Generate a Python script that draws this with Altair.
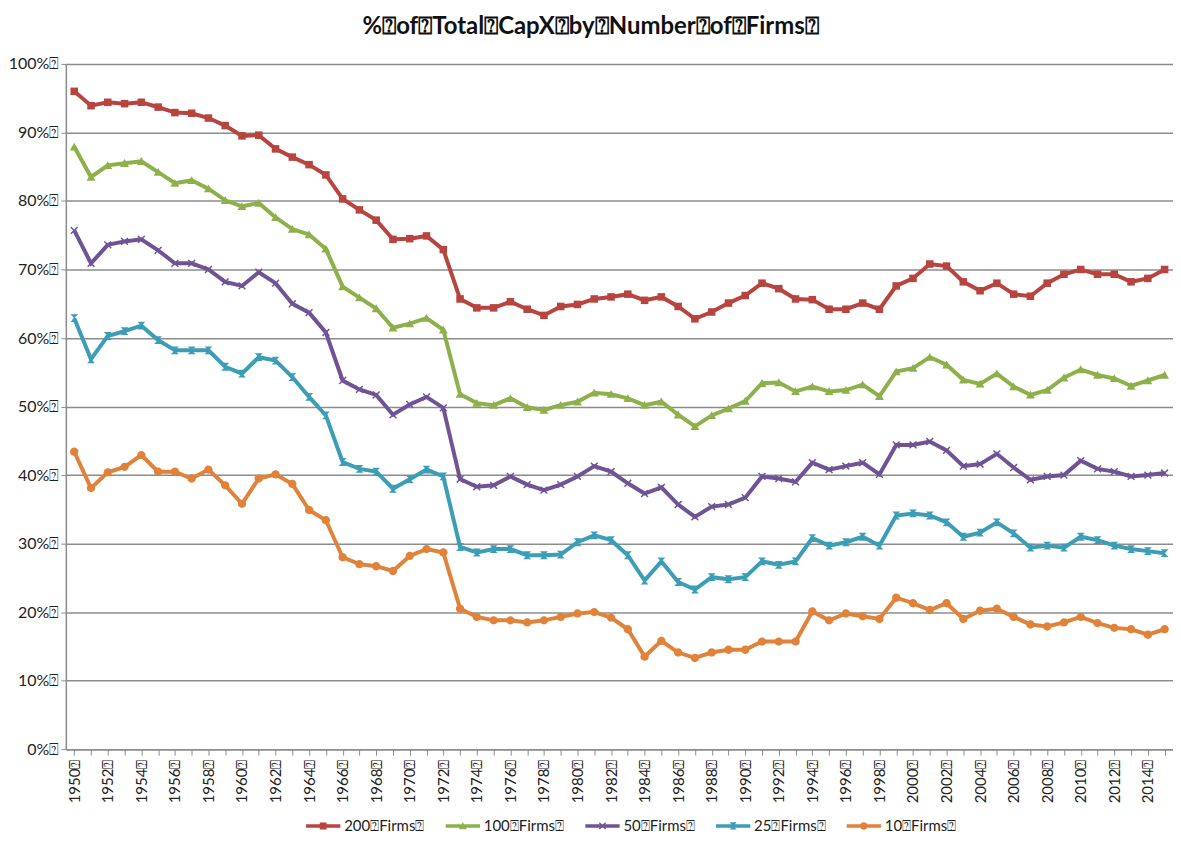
import re
import altair as alt
import pandas as pd

TOFU = "\u2370"

years = [str(y) for y in range(1950, 2016)]
series_names = ["200 Firms", "100 Firms", "50 Firms", "25 Firms", "10 Firms"]
series_colors = ["#B8443F", "#8DB04A", "#6F5395", "#3C9DB6", "#E0823A"]

firms200 = [96.0, 93.9, 94.4, 94.2, 94.4, 93.7, 92.9, 92.8, 92.1, 91.0,
            89.5, 89.6, 87.6, 86.4, 85.3, 83.8, 80.3, 78.7, 77.2, 74.4,
            74.5, 74.9, 72.9, 65.7, 64.4, 64.4, 65.3, 64.2, 63.3, 64.6,
            64.9, 65.7, 66.0, 66.4, 65.5, 66.0, 64.6, 62.8, 63.8, 65.1,
            66.2, 68.0, 67.2, 65.7, 65.6, 64.2, 64.2, 65.1, 64.2, 67.6,
            68.7, 70.8, 70.5, 68.2, 66.9, 68.0, 66.4, 66.1, 68.0, 69.3,
            70.0, 69.3, 69.3, 68.2, 68.7, 70.0]
firms100 = [87.9, 83.5, 85.2, 85.5, 85.8, 84.2, 82.6, 83.0, 81.8, 80.1,
            79.2, 79.7, 77.6, 75.9, 75.1, 73.0, 67.5, 65.9, 64.3, 61.5,
            62.1, 62.9, 61.2, 51.8, 50.5, 50.2, 51.2, 49.9, 49.5, 50.2,
            50.7, 52.0, 51.8, 51.2, 50.2, 50.7, 48.8, 47.1, 48.7, 49.7,
            50.8, 53.4, 53.5, 52.2, 52.9, 52.2, 52.4, 53.2, 51.5, 55.1,
            55.6, 57.2, 56.1, 53.9, 53.3, 54.8, 52.9, 51.7, 52.4, 54.2,
            55.4, 54.6, 54.1, 53.0, 53.8, 54.6]
firms50 = [75.7, 70.9, 73.6, 74.1, 74.4, 72.8, 70.9, 70.9, 70.0, 68.2,
           67.6, 69.6, 68.0, 65.0, 63.7, 60.8, 53.8, 52.5, 51.7, 48.8,
           50.3, 51.4, 49.8, 39.4, 38.3, 38.5, 39.8, 38.6, 37.8, 38.6,
           39.8, 41.3, 40.5, 38.8, 37.3, 38.2, 35.7, 33.9, 35.4, 35.7,
           36.7, 39.8, 39.5, 39.0, 41.8, 40.8, 41.3, 41.8, 40.1, 44.4,
           44.4, 44.9, 43.6, 41.3, 41.6, 43.1, 41.1, 39.3, 39.8, 40.0,
           42.1, 40.9, 40.5, 39.8, 40.0, 40.3]
firms25 = [62.9, 56.9, 60.3, 61.0, 61.8, 59.7, 58.2, 58.2, 58.2, 55.8,
           54.8, 57.2, 56.7, 54.3, 51.4, 48.7, 41.9, 40.9, 40.5, 38.0,
           39.4, 40.8, 39.8, 29.5, 28.7, 29.2, 29.2, 28.3, 28.3, 28.4,
           30.2, 31.2, 30.5, 28.3, 24.6, 27.4, 24.4, 23.3, 25.1, 24.8,
           25.1, 27.4, 26.9, 27.4, 30.8, 29.7, 30.2, 31.0, 29.7, 34.1,
           34.4, 34.1, 33.1, 31.0, 31.6, 33.1, 31.5, 29.4, 29.7, 29.4,
           31.0, 30.5, 29.7, 29.2, 28.9, 28.6]
firms10 = [43.4, 38.1, 40.4, 41.2, 42.9, 40.5, 40.5, 39.5, 40.8, 38.5,
           35.8, 39.5, 40.1, 38.7, 34.9, 33.4, 28.0, 27.0, 26.7, 26.0,
           28.2, 29.2, 28.7, 20.5, 19.3, 18.8, 18.8, 18.5, 18.8, 19.3,
           19.8, 20.0, 19.2, 17.5, 13.5, 15.8, 14.1, 13.3, 14.1, 14.5,
           14.5, 15.7, 15.7, 15.7, 20.1, 18.8, 19.8, 19.4, 19.0, 22.1,
           21.3, 20.3, 21.3, 19.0, 20.2, 20.5, 19.3, 18.2, 17.9, 18.5,
           19.3, 18.4, 17.7, 17.5, 16.7, 17.5]
y_ticks = [0, 10, 20, 30, 40, 50, 60, 70, 80, 90, 100]

# marker shapes (unit paths, all drawn clockwise)
marker_paths = [
    "M-0.72,-0.72H0.72V0.72H-0.72Z",
    "M0,-0.8L0.85,0.7H-0.85Z",
    "M-0.75,-0.55L-0.55,-0.75L0,-0.2L0.55,-0.75L0.75,-0.55L0.2,0L0.75,0.55L0.55,0.75L0,0.2L-0.55,0.75L-0.75,0.55L-0.2,0Z",
    "M-0.75,-0.75H0.75L0.12,-0.1V0.1L0.75,0.75H-0.75L-0.12,0.1V-0.1Z",
    "M-0.8,0A0.8,0.8 0 1,1 0.8,0A0.8,0.8 0 1,1 -0.8,0Z",
]


def scale_path(p, k):
    out = []
    cmd = None
    for t in re.split(r"([A-Za-z])", p):
        if not t:
            continue
        if t.isalpha():
            cmd = t
            out.append(t)
            continue
        nums = [float(n) for n in re.findall(r"-?\d*\.?\d+", t)]
        if cmd == "A":
            res = []
            for i in range(0, len(nums), 7):
                a = nums[i:i + 7]
                res += [f"{a[0]*k:g}", f"{a[1]*k:g}", f"{a[2]:g}", str(int(a[3])), str(int(a[4])),
                        f"{a[5]*k:g}", f"{a[6]*k:g}"]
            out.append(" ".join(res[:5]) + " " + ",".join(res[5:]))
        else:
            out.append(",".join(f"{n * k:g}" for n in nums))
    return "".join(out)


# legend glyph: a line segment through a small marker (symbol box 16px, r = 8px)
legend_paths = ["M-2.15,-0.22H2.15V0.22H-2.15Z" + scale_path(p, 0.6) for p in marker_paths]

rows = []
for name, vals in zip(series_names, [firms200, firms100, firms50, firms25, firms10]):
    for yr, v in zip(years, vals):
        rows.append({"Year": yr, "Series": name, "Value": v})
df = pd.DataFrame(rows)

# legend-only rows: placed outside the y domain and clipped away
legend_df = pd.DataFrame({"Year": [years[0]] * 5, "Series": series_names, "Value": [-60.0] * 5})

FONT = "Lato"
PLOT_W = 1110
PLOT_H = 687
color_scale = alt.Scale(domain=series_names, range=series_colors)

x_enc = alt.X(
    "Year:O",
    title=None,
    scale=alt.Scale(paddingInner=0, paddingOuter=0),
    axis=alt.Axis(
        labelAngle=270,
        labelAlign="right",
        labelBaseline="middle",
        labelExpr=f"toNumber(datum.value) % 2 === 0 ? datum.value + '{TOFU}' : ''",
        labelFontSize=15,
        labelColor="#222222",
        labelFont=FONT,
        labelPadding=4,
        tickColor="#8c8c8c",
        tickSize=6,
        domainColor="#8c8c8c",
        domainWidth=1.5,
        grid=False,
    ),
)
y_enc = alt.Y(
    "Value:Q",
    title=None,
    scale=alt.Scale(domain=[0, 100], nice=False),
    axis=alt.Axis(
        values=y_ticks,
        labelExpr=f"datum.value + '%{TOFU}'",
        labelFontSize=16,
        labelColor="#222222",
        labelFont=FONT,
        gridColor="#8c8c8c",
        gridWidth=1.5,
        tickColor="#8c8c8c",
        tickSize=5,
        domainColor="#8c8c8c",
        domainWidth=1.5,
    ),
)

lines = alt.Chart(df).mark_line(strokeWidth=4).encode(
    x=x_enc,
    y=y_enc,
    color=alt.Color("Series:N", scale=color_scale, legend=None),
)

points = alt.Chart(df).mark_point(
    filled=True, size=110, strokeWidth=3, strokeOpacity=0.4, fillOpacity=1
).encode(
    x=x_enc,
    y=y_enc,
    color=alt.Color("Series:N", scale=color_scale, legend=None),
    shape=alt.Shape("Series:N", scale=alt.Scale(domain=series_names, range=marker_paths), legend=None),
)

legend_common = dict(
    orient="none",
    legendX=250,
    legendY=PLOT_H + 69,
    direction="horizontal",
    title=None,
    labelFontSize=15,
    labelFont=FONT,
    labelColor="#222222",
    labelExpr=f"replace(datum.label, ' ', '{TOFU}') + '{TOFU}'",
    symbolSize=256,
    symbolStrokeWidth=0,
    labelOffset=13,
    columnPadding=20,
)

legend_layer = alt.Chart(legend_df).mark_point(
    filled=True, size=256, clip=True, opacity=1, strokeWidth=0
).encode(
    x=x_enc,
    y=y_enc,
    color=alt.Color("Series:N", scale=color_scale, sort=series_names, legend=alt.Legend(**legend_common)),
    shape=alt.Shape(
        "Series:N",
        sort=series_names,
        scale=alt.Scale(domain=series_names, range=legend_paths),
        legend=alt.Legend(**legend_common),
    ),
)

chart = alt.layer(lines, points, legend_layer).resolve_scale(
    color="independent", shape="independent"
).properties(
    width=PLOT_W,
    height=PLOT_H,
    autosize=alt.AutoSizeParams(type="pad"),
    padding={"left": 0, "right": 0, "top": 6, "bottom": 0},
    title=alt.TitleParams(
        text=f"%{TOFU}of{TOFU}Total{TOFU}CapX{TOFU}by{TOFU}Number{TOFU}of{TOFU}Firms{TOFU}",
        font=FONT,
        fontSize=24,
        fontWeight="bold",
        color="#111111",
        anchor="middle",
        frame="bounds",
        offset=17,
    ),
).configure_view(stroke=None).configure(background="white")

chart.save("out.html", embed_options={"renderer": "svg", "actions": False})
